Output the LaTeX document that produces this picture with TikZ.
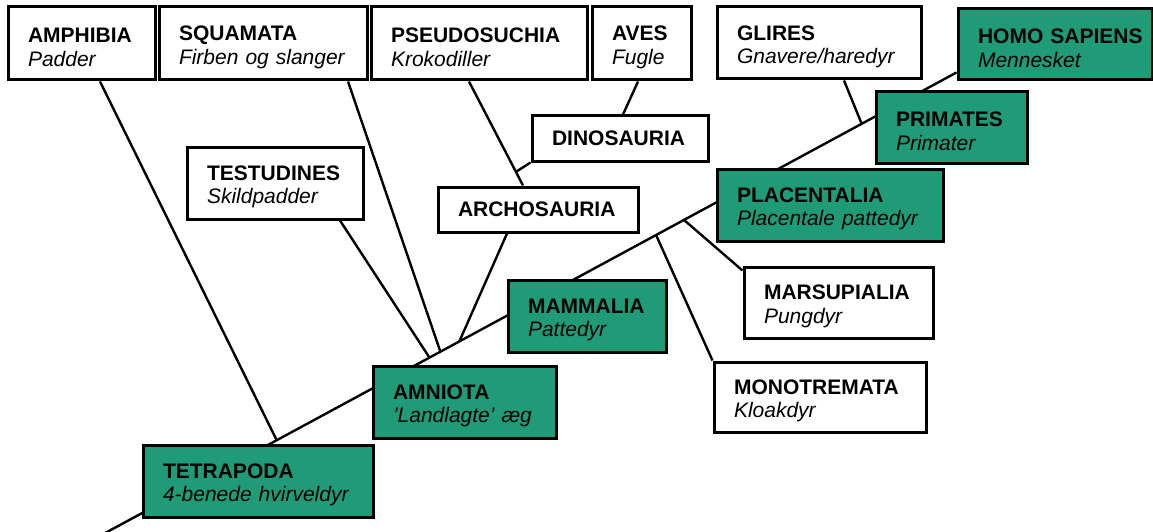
\documentclass[tikz,border=0pt]{standalone}
\usepackage{fontspec}
\setmainfont{Liberation Sans}
\usetikzlibrary{calc,backgrounds}
\definecolor{tgreen}{HTML}{1F9B78}
\newcommand{\cladetxt}[2]{\mbox{\rule{0pt}{22.5pt}\textbf{#1}}\\\textit{#2}}
\begin{document}
\begin{tikzpicture}[x=1pt,y=-1pt,
  every node/.style={font=\fontsize{21}{23.5}\selectfont},
  bx/.style={draw=black, line width=3pt, fill=white, align=left, inner xsep=20pt, inner ysep=0pt},
  gb/.style={bx, fill=tgreen},
  ln/.style={line width=2.4pt}]
\useasboundingbox (0,0) rectangle (1153,532);

\node[bx, minimum width=147pt, text width=107pt, minimum height=73pt] (amph) at (81.5,43.5) {\cladetxt{AMPHIBIA}{Padder}};
\node[bx, minimum width=208pt, text width=168pt, minimum height=73pt] (squa) at (263,43.5) {\cladetxt{SQUAMATA}{Firben og slanger}};
\node[bx, minimum width=216pt, text width=176pt, minimum height=73pt] (pseudo) at (479,43.5) {\cladetxt{PSEUDOSUCHIA}{Krokodiller}};
\node[bx, minimum width=99pt, text width=59pt, minimum height=73pt] (aves) at (641.5,43.5) {\cladetxt{AVES}{Fugle}};
\node[bx, minimum width=204pt, text width=164pt, minimum height=72pt] (glires) at (819,43) {\cladetxt{GLIRES}{Gnavere/haredyr}};
\node[gb, minimum width=194pt, text width=154pt, minimum height=71pt] (homo) at (1055,44.5) {\cladetxt{HOMO SAPIENS}{Mennesket}};
\node[gb, minimum width=151pt, text width=111pt, minimum height=71pt] (prim) at (951.5,127.5) {\cladetxt{PRIMATES}{Primater}};
\node[gb, minimum width=226pt, text width=186pt, minimum height=72pt] (plac) at (830,205) {\cladetxt{PLACENTALIA}{Placentale pattedyr}};
\node[bx, minimum width=176pt, text width=136pt, minimum height=45pt] (dino) at (620,138.5) {\mbox{\textbf{DINOSAURIA}}};
\node[bx, minimum width=200pt, text width=160pt, minimum height=45pt] (archo) at (538,209.5) {\mbox{\textbf{ARCHOSAURIA}}};
\node[bx, minimum width=176pt, text width=136pt, minimum height=72pt] (testu) at (275,183) {\cladetxt{TESTUDINES}{Skildpadder}};
\node[gb, minimum width=158pt, text width=118pt, minimum height=72pt] (mamm) at (587,316) {\cladetxt{MAMMALIA}{Pattedyr}};
\node[gb, minimum width=183pt, text width=143pt, minimum height=72pt] (amnio) at (464.5,402) {\cladetxt{AMNIOTA}{’Landlagte’ æg}};
\node[gb, minimum width=230pt, text width=190pt, minimum height=72pt] (tetra) at (258,481) {\cladetxt{TETRAPODA}{4-benede hvirveldyr}};
\node[bx, minimum width=189pt, text width=149pt, minimum height=71pt] (mars) at (838.5,302.5) {\cladetxt{MARSUPIALIA}{Pungdyr}};
\node[bx, minimum width=212pt, text width=172pt, minimum height=70pt] (mono) at (820,397) {\cladetxt{MONOTREMATA}{Kloakdyr}};

\begin{pgfonlayer}{background}
\coordinate (root) at (103,534.2);
\coordinate (tip) at ($(homo.south west)+(0,-9)$);
\draw[ln] (root) -- (tip);
\draw[ln] ($(amph.south)+(18.5,0)$) -- ($(root)!0.2035!(tip)$);
\draw[ln] ($(testu.south)+(65,0)$) -- ($(root)!0.3825!(tip)$);
\draw[ln] ($(squa.south)+(85,0)$) -- ($(root)!0.3953!(tip)$);
\draw[ln] ($(archo.south)+(-31,0)$) -- ($(root)!0.4175!(tip)$);
\coordinate (ps1) at ($(pseudo.south)+(-10,0)$);
\coordinate (ps2) at ($(archo.north)+(-15,0)$);
\draw[ln] (ps1) -- (ps2);
\draw[ln] (dino.south west) -- ($(ps1)!0.869!(ps2)$);
\draw[ln] ($(aves.south)+(-3.5,0)$) -- ($(dino.north)+(3,0)$);
\draw[ln] ($(glires.south)+(25,0)$) -- ($(root)!0.8889!(tip)$);
\draw[ln] (mono.north west) -- ($(root)!0.6480!(tip)$);
\draw[ln] ($(mars.north west)+(0,5)$) -- ($(root)!0.6807!(tip)$);
\end{pgfonlayer}
\end{tikzpicture}
\end{document}
